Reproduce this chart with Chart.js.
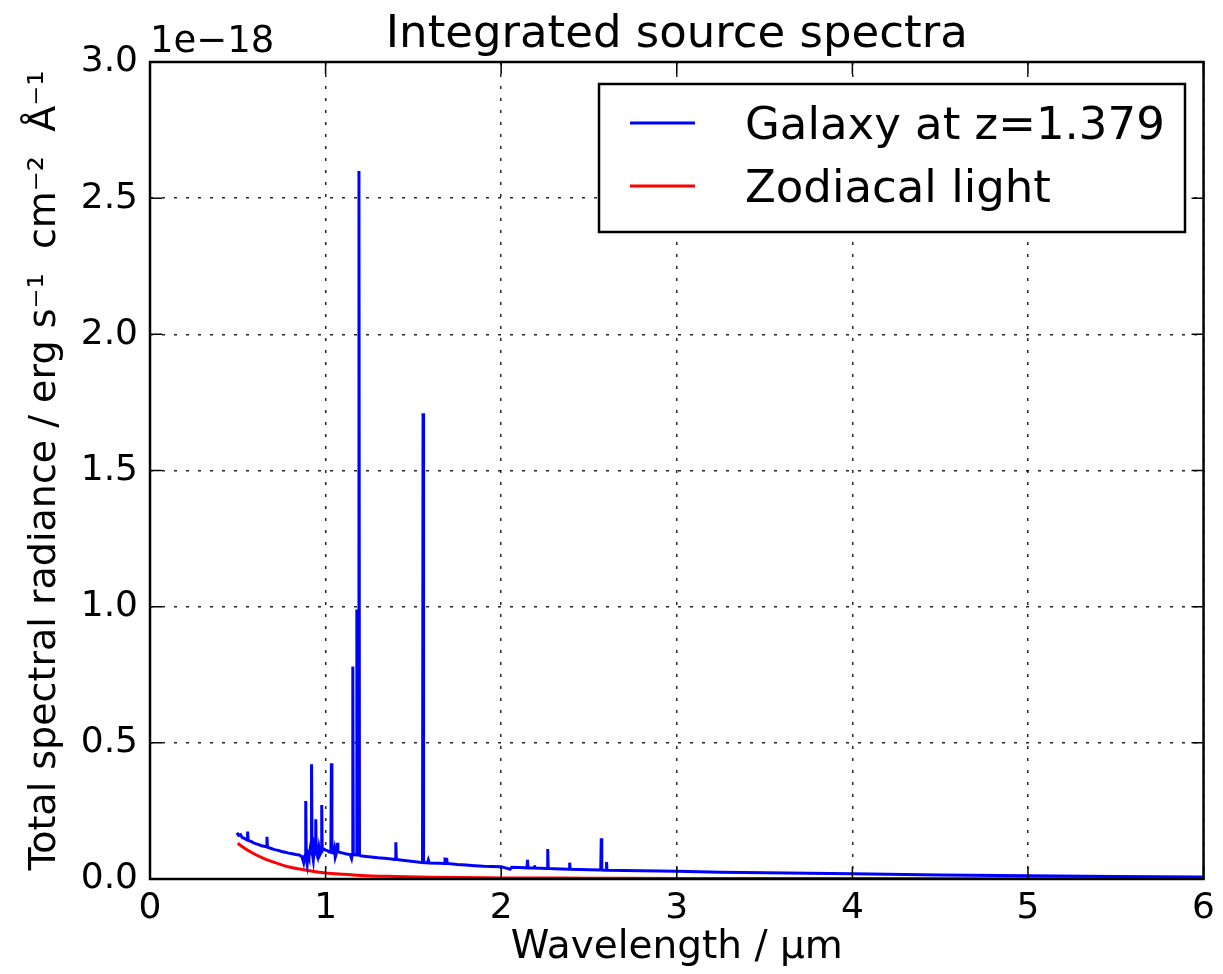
<!DOCTYPE html>
<html>
<head>
<meta charset="utf-8">
<script src="https://cdn.jsdelivr.net/npm/chart.js@4.4.1/dist/chart.umd.min.js"></script>
<style>
  html, body { margin: 0; padding: 0; background: #fff; }
  canvas { display: block; }
</style>
</head>
<body>
<canvas id="spectra" width="1223" height="974"></canvas>
<script>
// wavelengths in micron, flux in units of 1e-18 erg s-1 cm-2 A-1
const galaxyWave = [
  0.495, 0.505, 0.515, 0.525, 0.535, 0.545, 0.553, 0.556, 0.559, 0.575,
  0.590, 0.605, 0.620, 0.635, 0.650, 0.663, 0.666, 0.669, 0.690, 0.710,
  0.730, 0.750, 0.770, 0.790, 0.810, 0.830, 0.850, 0.865, 0.875, 0.881,
  0.884, 0.887, 0.890, 0.895, 0.900, 0.905, 0.912, 0.917, 0.920, 0.923,
  0.930, 0.936, 0.941, 0.944, 0.947, 0.955, 0.962, 0.968, 0.975, 0.978,
  0.981, 0.990, 1.000, 1.010, 1.020, 1.030, 1.033, 1.036, 1.045, 1.050,
  1.055, 1.064, 1.067, 1.070, 1.085, 1.100, 1.120, 1.140, 1.148, 1.152,
  1.155, 1.158, 1.175, 1.178, 1.181, 1.187, 1.190, 1.193, 1.200, 1.230,
  1.260, 1.300, 1.350, 1.397, 1.400, 1.403, 1.450, 1.500, 1.552, 1.555,
  1.558, 1.580, 1.585, 1.590, 1.650, 1.677, 1.680, 1.690, 1.693, 1.750,
  1.800, 1.850, 1.900, 1.950, 2.000, 2.030, 2.050, 2.060, 2.100, 2.147,
  2.150, 2.153, 2.187, 2.190, 2.193, 2.262, 2.265, 2.268, 2.300, 2.387,
  2.390, 2.393, 2.450, 2.500, 2.567, 2.570, 2.573, 2.597, 2.600, 2.603,
  2.700, 2.800, 3.000, 3.250, 3.500, 3.750, 4.000, 4.500, 5.000, 5.500,
  6.000
];
const galaxyFlux = [
  0.170, 0.160, 0.163, 0.152, 0.150, 0.146, 0.143, 0.174, 0.142, 0.138,
  0.133, 0.129, 0.126, 0.122, 0.120, 0.118, 0.155, 0.117, 0.112, 0.108,
  0.105, 0.101, 0.098, 0.095, 0.093, 0.090, 0.088, 0.082, 0.060, 0.085,
  0.088, 0.286, 0.075, 0.055, 0.090, 0.080, 0.110, 0.095, 0.421, 0.100,
  0.070, 0.120, 0.105, 0.219, 0.095, 0.080, 0.115, 0.090, 0.100, 0.272,
  0.105, 0.110, 0.106, 0.104, 0.100, 0.098, 0.425, 0.098, 0.095, 0.110,
  0.080, 0.100, 0.133, 0.100, 0.097, 0.095, 0.092, 0.090, 0.075, 0.090,
  0.780, 0.090, 0.088, 0.990, 0.088, 0.088, 2.600, 0.087, 0.085, 0.083,
  0.081, 0.078, 0.075, 0.072, 0.135, 0.072, 0.068, 0.064, 0.060, 1.710,
  0.060, 0.060, 0.070, 0.059, 0.058, 0.057, 0.073, 0.072, 0.057, 0.053,
  0.051, 0.049, 0.047, 0.046, 0.045, 0.040, 0.036, 0.043, 0.042, 0.041,
  0.070, 0.041, 0.040, 0.050, 0.040, 0.039, 0.110, 0.039, 0.038, 0.036,
  0.060, 0.036, 0.035, 0.034, 0.033, 0.150, 0.033, 0.032, 0.062, 0.032,
  0.031, 0.030, 0.028, 0.025, 0.023, 0.021, 0.019, 0.015, 0.012, 0.009,
  0.007
];

const zodiWave = [0.50, 0.55, 0.60, 0.65, 0.70, 0.75, 0.80, 0.90, 1.00, 1.10,
                  1.20, 1.40, 1.60, 2.00, 2.50, 3.00, 4.00, 5.00, 6.00];
const zodiFlux = [0.131, 0.108, 0.090, 0.075, 0.063, 0.052, 0.043, 0.031, 0.022, 0.017,
                  0.013, 0.009, 0.006, 0.004, 0.003, 0.002, 0.0015, 0.001, 0.001];

const seriesNames = ["Galaxy at z=1.379", "Zodiacal light"];
const seriesColours = ["#0000ff", "#ff0000"];

const xTicks = [0, 1, 2, 3, 4, 5, 6];
const yTicks = [0.0, 0.5, 1.0, 1.5, 2.0, 2.5, 3.0];

const chartTitle = "Integrated source spectra";
const xLabel = "Wavelength / \u00b5m";
const yLabel = "Total spectral radiance / erg s\u207b\u00b9  cm\u207b\u00b2  \u00c5\u207b\u00b9";
const offsetText = "1e\u221218";

const FONT = "'DejaVu Sans', sans-serif";

// box, inward ticks, title, offset text and the boxed legend, matplotlib style
const mplFrame = {
    id: "mplFrame",
    afterDraw(chart) {
        const ctx = chart.ctx;
        const a = chart.chartArea;
        const xs = chart.scales.x, ys = chart.scales.y;
        ctx.save();
        ctx.strokeStyle = "#000";
        ctx.lineWidth = 1.5;
        // tick marks pointing inwards on all four sides
        xTicks.forEach(v => {
            const px = xs.getPixelForValue(v);
            ctx.beginPath();
            ctx.moveTo(px, a.bottom); ctx.lineTo(px, a.bottom - 12);
            ctx.moveTo(px, a.top); ctx.lineTo(px, a.top + 12);
            ctx.stroke();
        });
        yTicks.forEach(v => {
            const py = ys.getPixelForValue(v);
            ctx.beginPath();
            ctx.moveTo(a.left, py); ctx.lineTo(a.left + 12, py);
            ctx.moveTo(a.right, py); ctx.lineTo(a.right - 12, py);
            ctx.stroke();
        });
        ctx.lineWidth = 2.5;
        ctx.strokeRect(a.left, a.top, a.right - a.left, a.bottom - a.top);

        ctx.fillStyle = "#000";
        ctx.textBaseline = "alphabetic";
        ctx.font = "45px " + FONT;
        ctx.textAlign = "center";
        ctx.fillText(chartTitle, (a.left + a.right) / 2, 47);
        ctx.font = "37px " + FONT;
        ctx.textAlign = "left";
        ctx.fillText(offsetText, a.left, 52);

        // legend
        const bx = 599, by = 84, bw = 586, bh = 148;
        ctx.fillStyle = "#fff";
        ctx.fillRect(bx, by, bw, bh);
        ctx.lineWidth = 2.5;
        ctx.strokeRect(bx, by, bw, bh);
        ctx.font = "45px " + FONT;
        ctx.textBaseline = "middle";
        chart.data.datasets.forEach((ds, i) => {
            const ly = 123 + i * 63;
            ctx.strokeStyle = ds.borderColor;
            ctx.lineWidth = 3;
            ctx.beginPath();
            ctx.moveTo(630, ly); ctx.lineTo(695, ly);
            ctx.stroke();
            ctx.fillStyle = "#000";
            ctx.fillText(ds.label, 745, ly + 4);
        });
        ctx.restore();
    }
};

const gridStyle = {
    color: "rgba(0,0,0,0.85)",
    lineWidth: 1.5,
    drawTicks: false
};

new Chart(document.getElementById("spectra"), {
    type: "line",
    data: {
        datasets: [
            {
                label: seriesNames[0],
                data: galaxyWave.map((w, i) => ({ x: w, y: galaxyFlux[i] })),
                borderColor: seriesColours[0],
                borderWidth: 3,
                pointRadius: 0,
                tension: 0,
                fill: false
            },
            {
                label: seriesNames[1],
                data: zodiWave.map((w, i) => ({ x: w, y: zodiFlux[i] })),
                borderColor: seriesColours[1],
                borderWidth: 3,
                pointRadius: 0,
                cubicInterpolationMode: "monotone",
                fill: false
            }
        ]
    },
    options: {
        responsive: false,
        animation: false,
        devicePixelRatio: 1,
        layout: { padding: { top: 62, right: 16, left: 0, bottom: 0 } },
        plugins: {
            legend: { display: false },
            title: { display: false },
            tooltip: { enabled: false }
        },
        scales: {
            x: {
                type: "linear",
                min: 0, max: 6,
                afterBuildTicks: s => { s.ticks = xTicks.map(v => ({ value: v })); },
                afterFit: s => { s.height = 95; },
                ticks: {
                    color: "#000",
                    font: { family: FONT, size: 36 },
                    padding: 8,
                    maxRotation: 0,
                    callback: v => String(v)
                },
                grid: gridStyle,
                border: { display: false, dash: [3, 9] },
                title: {
                    display: true,
                    text: xLabel,
                    color: "#000",
                    font: { family: FONT, size: 39 },
                    padding: { top: 0, bottom: 3 }
                }
            },
            y: {
                type: "linear",
                min: 0, max: 3,
                afterBuildTicks: s => { s.ticks = yTicks.map(v => ({ value: v })); },
                afterFit: s => { s.width = 150; },
                ticks: {
                    color: "#000",
                    font: { family: FONT, size: 36 },
                    padding: 12,
                    callback: v => v.toFixed(1)
                },
                grid: gridStyle,
                border: { display: false, dash: [3, 9] },
                title: {
                    display: true,
                    text: yLabel,
                    color: "#000",
                    font: { family: FONT, size: 38 },
                    padding: { top: 22, bottom: 0 }
                }
            }
        }
    },
    plugins: [mplFrame]
});
</script>
</body>
</html>
